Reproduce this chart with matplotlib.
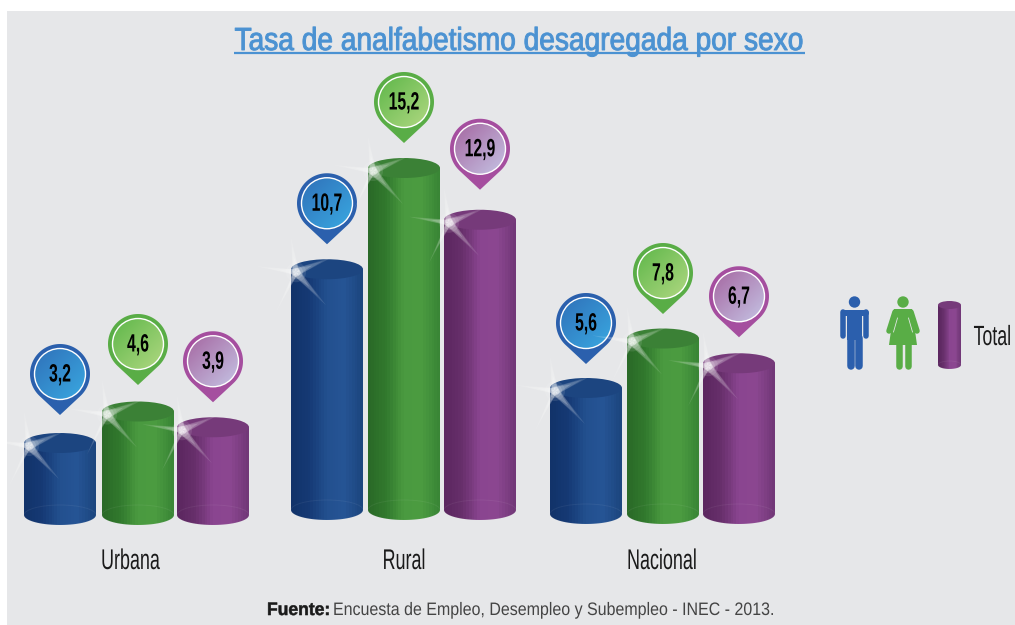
"""Tasa de analfabetismo por sexo: pseudo-3D cylinders with pin labels."""
import numpy as np
import matplotlib
matplotlib.use("Agg")
import matplotlib.pyplot as plt
from matplotlib.colors import LinearSegmentedColormap
from matplotlib.patches import Circle, Ellipse, Polygon, Rectangle
from matplotlib.patheffects import AbstractPathEffect
from matplotlib.transforms import Affine2D

categories = ["Urbana", "Rural", "Nacional"]
hombres = [3.2, 10.7, 5.6]
mujeres = [4.6, 15.2, 7.8]
total = [3.9, 12.9, 6.7]
legend_label = "Total"
title = "Tasa de analfabetismo desagregada por sexo"
source_bold = "Fuente:"
source_rest = "Encuesta de Empleo, Desempleo y Subempleo - INEC - 2013."

# layout, all in reference pixels
W, H = 1015, 625
PANEL_L, PANEL_T = 7, 11
PX_PER_UNIT = 22.5
BASE = 515
GROUP_BASE = [515, 510, 514]
GROUP_X = [[60, 138, 213], [327, 404, 480], [586, 663, 739]]
PIN_GAP = [[69, 67.5, 66], [66, 66, 71], [65, 65.5, 67]]
LABEL_X = [130.5, 404, 662]
BAR_W = 72
RY = 10

STYLES = [
    dict(body=["#12336a", "#163a75", "#23508f", "#265595", "#1c467f"], top="#1c4580",
         ring="#2b60ad", pin0="#2f6fb8", pin1="#3aaae2"),
    dict(body=["#2a6a28", "#327a2e", "#4a9a40", "#4c9c41", "#3a8636"], top="#3b8136",
         ring="#59ad46", pin0="#5cb648", pin1="#b2d983"),
    dict(body=["#5c2760", "#68306c", "#8a4590", "#8c4791", "#723878"], top="#763a7a",
         ring="#a54e9f", pin0="#a4649f", pin1="#c6c6e6"),
]

plt.rcParams["font.family"] = ["Liberation Sans", "DejaVu Sans"]

fig = plt.figure(figsize=(W / 100, H / 100), dpi=100, facecolor="white")
rect = [PANEL_L / W, 0, (W - PANEL_L) / W, (H - PANEL_T) / H]

ax = fig.add_axes(rect, facecolor="#e6e7e9")
ax.set_xlim(PANEL_L, W)
ax.set_ylim((BASE - H) / PX_PER_UNIT, (BASE - PANEL_T) / PX_PER_UNIT)
ax.set_xticks([])
ax.set_yticks([])
for s in ax.spines.values():
    s.set_visible(False)

deco = fig.add_axes(rect, facecolor="none")
deco.set_xlim(PANEL_L, W)
deco.set_ylim(H, PANEL_T)
deco.axis("off")


class Narrow(AbstractPathEffect):
    """No condensed font is installed, so squeeze the glyph outlines around x."""

    def __init__(self, sx, x, stroke=0.0):
        super().__init__()
        self.sx, self.x, self.stroke = sx, x, stroke

    def draw_path(self, renderer, gc, tpath, affine, rgbFace=None):
        squeeze = Affine2D().translate(-self.x, 0).scale(self.sx, 1).translate(self.x, 0)
        gc0 = renderer.new_gc()
        gc0.copy_properties(gc)
        if self.stroke:
            gc0.set_linewidth(self.stroke)
            gc0.set_foreground(rgbFace)
        renderer.draw_path(gc0, tpath, affine + squeeze, rgbFace)
        gc0.restore()


def label(x, y, s, size, sx, ha="center", stroke=0.0, **kw):
    # one data unit in x is one display pixel with this axes layout
    t = deco.text(x, y, s, ha=ha, va="baseline", fontsize=size, **kw)
    t.set_path_effects([Narrow(sx, x, stroke)])
    return t


def cylinder(axis, cx, y_top, y_bot, w, ry, style, zorder=2):
    """Cylinder between two y values; ry is the ellipse half height in y units."""
    t = np.linspace(np.pi, 0, 40)
    xs = cx + w / 2 * np.cos(t)
    ys = y_bot + ry * np.sin(t) * (-1 if y_top > y_bot else 1)
    verts = [(cx - w / 2, y_top)] + list(zip(xs, ys)) + [(cx + w / 2, y_top)]
    clip = Polygon(verts, closed=True, facecolor="none", edgecolor="none",
                   transform=axis.transData)
    axis.add_patch(clip)
    cmap = LinearSegmentedColormap.from_list("body", style["body"], N=26)
    grad = np.linspace(0, 1, 26).reshape(1, -1)
    low = min(y_top, y_bot) - abs(ry)
    high = max(y_top, y_bot) + abs(ry)
    im = axis.imshow(grad, cmap=cmap, aspect="auto", interpolation="nearest",
                     extent=(cx - w / 2, cx + w / 2, low, high), zorder=zorder)
    im.set_clip_path(clip)
    axis.add_patch(Ellipse((cx, y_bot), w, 2 * ry, facecolor="none",
                           edgecolor=(1, 1, 1, 0.06), linewidth=0.7, zorder=zorder + 0.1))
    axis.add_patch(Ellipse((cx, y_top), w, 2 * ry, facecolor=style["top"],
                           edgecolor="none", zorder=zorder + 0.2))


def sparkle(x, y):
    rays = [(-40, -6, 3), (-5, -35, 3.5), (36, -15, 4), (30, 33, 4), (-20, 40, 2.5)]
    for dx, dy, half in rays:
        n = np.hypot(dx, dy)
        ox, oy = -dy / n * half, dx / n * half
        for scale, alpha in [(1.0, 0.13), (0.75, 0.16), (0.45, 0.2)]:
            pts = [(x + ox, y + oy), (x + dx * scale, y + dy * scale), (x - ox, y - oy)]
            deco.add_patch(Polygon(pts, facecolor="white", edgecolor="none",
                                   alpha=alpha, zorder=9))
    for r, alpha in [(10, 0.1), (7, 0.16), (4.5, 0.3)]:
        deco.add_patch(Circle((x, y), r, facecolor="white", edgecolor="none",
                              alpha=alpha, zorder=9))


def pin(cx, cy, text, style):
    r, tip = 30, 41
    a = np.arccos(r / tip)
    t = np.linspace(np.pi / 2 + a, 2.5 * np.pi - a, 80)
    pts = list(zip(cx + r * np.cos(t), cy + r * np.sin(t))) + [(cx, cy + tip)]
    deco.add_patch(Polygon(pts, facecolor=style["ring"], edgecolor="none", zorder=5))
    yy, xx = np.mgrid[0:1:64j, 0:1:64j]
    cmap = LinearSegmentedColormap.from_list("pin", [style["pin0"], style["pin1"]])
    im = deco.imshow((xx + yy) / 2, cmap=cmap, aspect="auto", interpolation="bilinear",
                     extent=(cx - 27, cx + 27, cy + 27, cy - 27), zorder=6)
    deco.add_patch(Circle((cx, cy), 25.5, facecolor="none", edgecolor="white",
                          linewidth=1.0, zorder=7))
    im.set_clip_path(Circle((cx, cy), 25.5, transform=deco.transData))
    label(cx, cy + 7.5, text, 18, 0.63, fontweight="bold", color="black", zorder=8)


for g, vals in enumerate(zip(hombres, mujeres, total)):
    base_v = (BASE - GROUP_BASE[g]) / PX_PER_UNIT
    for i, v in enumerate(vals):
        cx = GROUP_X[g][i]
        cylinder(ax, cx, base_v + v, base_v, BAR_W, RY / PX_PER_UNIT, STYLES[i], zorder=2 + i)
        y_top = GROUP_BASE[g] - v * PX_PER_UNIT
        sparkle(cx - BAR_W / 2 + 5, y_top + 3)
        pin(cx, y_top - PIN_GAP[g][i], f"{v:.1f}".replace(".", ","), STYLES[i])
    label(LABEL_X[g], 569, categories[g], 20.5, 0.63, color="#1a1a1a", zorder=8)

# title with its underline
label(519.5, 50, title, 23, 0.88, stroke=0.7, color="#4b92d2")
deco.plot([234, 805], [52.5, 52.5], color="#4b92d2", linewidth=1.6, solid_capstyle="butt")

# source line
label(267, 615, source_bold, 13, 0.97, ha="left", stroke=0.4, fontweight="bold", color="#1a1a1a")
label(333, 615, source_rest, 13, 0.885, ha="left", color="#444444")

# legend: man, woman, small cylinder
blue, green = "#2b5fad", "#59ad46"
bg = "#e6e7e9"
px = 0.72  # points per reference pixel at dpi 100
deco.add_patch(Circle((854.5, 302), 5.7, facecolor=blue, edgecolor="none"))
deco.add_patch(Rectangle((847, 310), 15, 30, facecolor=blue, edgecolor="none"))
deco.plot([843.5, 866], [312.5, 312.5], color=blue, linewidth=6 * px, solid_capstyle="round")
for x in (842.7, 866.3):
    deco.plot([x, x], [312, 335.5], color=blue, linewidth=5.5 * px, solid_capstyle="round")
for x in (850.5, 858.5):
    deco.plot([x, x], [338, 365.5], color=blue, linewidth=7.5 * px, solid_capstyle="round")

deco.add_patch(Circle((903, 302), 5.7, facecolor=green, edgecolor="none"))
deco.add_patch(Polygon([(894, 309), (912, 309), (917, 345), (889, 345)],
                       facecolor=green, edgecolor="none"))
for x0, x1 in ((895, 889), (911, 917)):
    deco.plot([x0, x1], [312, 331], color=green, linewidth=5.5 * px, solid_capstyle="round")
for x0, x1 in ((897.5, 893.5), (908.5, 912.5)):
    deco.plot([x0, x1], [318, 332], color=bg, linewidth=0.8 * px)
for x in (898.5, 907.5):
    deco.plot([x, x], [343, 365.5], color=green, linewidth=6.5 * px, solid_capstyle="round")

cylinder(deco, 949.5, 305, 365, 23, 4, STYLES[2], zorder=2)
label(1011, 345, legend_label, 20, 0.64, ha="right", color="#1a1a1a")

deco.set_xlim(PANEL_L, W)
deco.set_ylim(H, PANEL_T)
ax.set_xlim(PANEL_L, W)
ax.set_ylim((BASE - H) / PX_PER_UNIT, (BASE - PANEL_T) / PX_PER_UNIT)

fig.savefig("out.png", dpi=100)
plt.close(fig)
